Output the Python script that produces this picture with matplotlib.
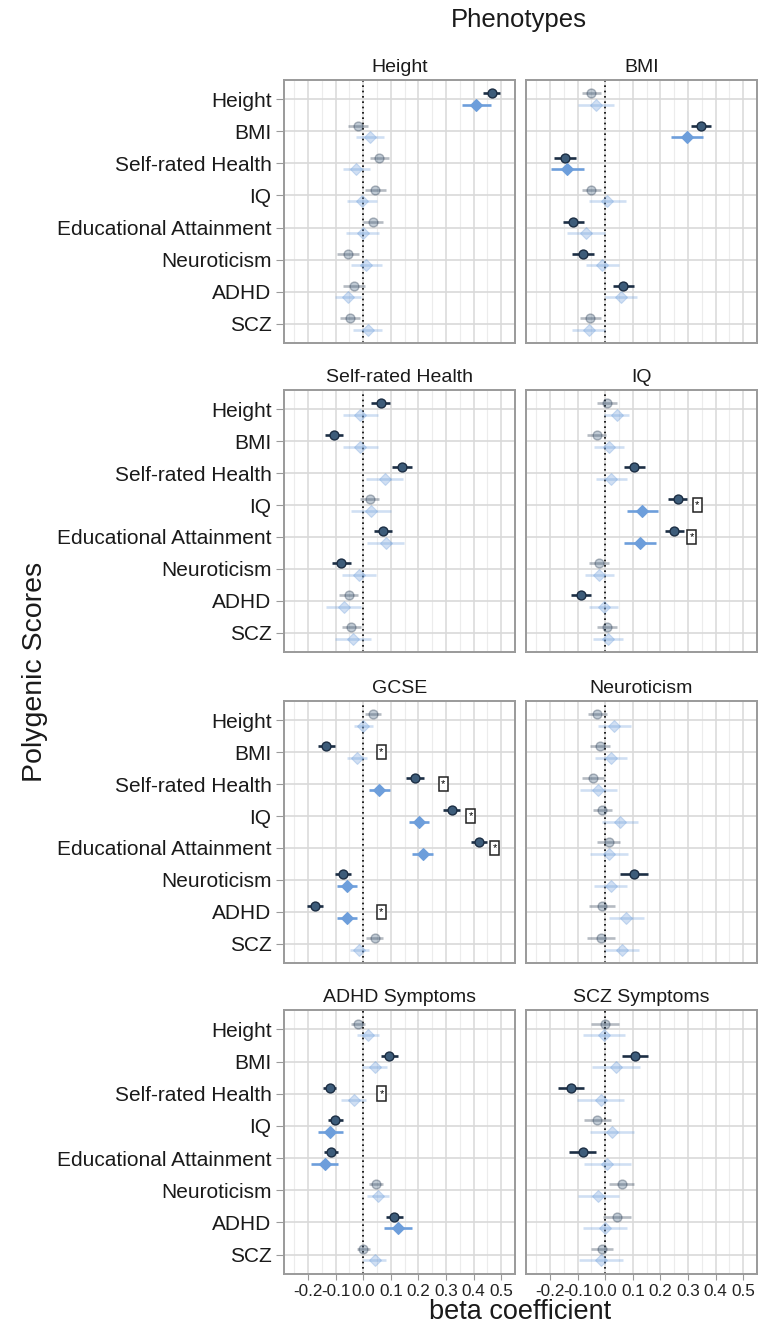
import matplotlib
matplotlib.use("Agg")
import matplotlib.pyplot as plt
import numpy as np

plt.rcParams['font.family'] = ['Liberation Sans', 'DejaVu Sans']

# Outcome phenotypes (one panel each) and polygenic scores (rows)
phenotypes = ["Height", "BMI", "Self-rated Health", "IQ",
              "GCSE", "Neuroticism", "ADHD Symptoms", "SCZ Symptoms"]
scores = ["Height", "BMI", "Self-rated Health", "IQ",
          "Educational Attainment", "Neuroticism", "ADHD", "SCZ"]

# Series 1 (dark circles): beta, 95% CI half-width, significance flag
dark_beta = [
    [0.465, -0.019, 0.059, 0.044, 0.037, -0.055, -0.032, -0.049],
    [-0.050, 0.347, -0.145, -0.050, -0.115, -0.082, 0.065, -0.054],
    [0.064, -0.105, 0.141, 0.023, 0.072, -0.079, -0.053, -0.043],
    [0.006, -0.031, 0.106, 0.262, 0.250, -0.022, -0.088, 0.005],
    [0.035, -0.134, 0.188, 0.320, 0.419, -0.073, -0.174, 0.041],
    [-0.028, -0.019, -0.043, -0.010, 0.012, 0.105, -0.012, -0.016],
    [-0.019, 0.095, -0.122, -0.101, -0.116, 0.046, 0.113, 0.001],
    [-0.001, 0.108, -0.124, -0.028, -0.082, 0.060, 0.042, -0.012],
]
dark_ci = [
    [0.030, 0.037, 0.036, 0.038, 0.036, 0.039, 0.040, 0.036],
    [0.034, 0.037, 0.040, 0.034, 0.039, 0.040, 0.038, 0.038],
    [0.034, 0.033, 0.036, 0.035, 0.034, 0.034, 0.034, 0.034],
    [0.036, 0.035, 0.037, 0.036, 0.034, 0.036, 0.036, 0.036],
    [0.030, 0.030, 0.033, 0.030, 0.030, 0.030, 0.030, 0.030],
    [0.036, 0.037, 0.040, 0.036, 0.040, 0.050, 0.048, 0.050],
    [0.025, 0.030, 0.025, 0.026, 0.026, 0.026, 0.030, 0.025],
    [0.050, 0.047, 0.048, 0.050, 0.050, 0.045, 0.050, 0.040],
]
dark_sig = [
    [1, 0, 0, 0, 0, 0, 0, 0],
    [0, 1, 1, 0, 1, 1, 1, 0],
    [1, 1, 1, 0, 1, 1, 0, 0],
    [0, 0, 1, 1, 1, 0, 1, 0],
    [0, 1, 1, 1, 1, 1, 1, 0],
    [0, 0, 0, 0, 0, 1, 0, 0],
    [0, 1, 1, 1, 1, 0, 1, 0],
    [0, 1, 1, 0, 1, 0, 0, 0],
]

# Series 2 (light diamonds)
light_beta = [
    [0.410, 0.025, -0.025, -0.005, -0.001, 0.011, -0.055, 0.016],
    [-0.034, 0.296, -0.137, 0.008, -0.070, -0.010, 0.057, -0.060],
    [-0.011, -0.011, 0.078, 0.028, 0.081, -0.014, -0.071, -0.037],
    [0.041, 0.014, 0.022, 0.135, 0.126, -0.022, -0.006, 0.010],
    [0.001, -0.021, 0.059, 0.203, 0.215, -0.059, -0.059, -0.014],
    [0.033, 0.020, -0.025, 0.054, 0.014, 0.020, 0.077, 0.060],
    [0.019, 0.041, -0.035, -0.119, -0.140, 0.053, 0.125, 0.041],
    [-0.004, 0.039, -0.016, 0.024, 0.008, -0.025, 0.000, -0.016],
]
light_ci = [
    [0.052, 0.050, 0.050, 0.054, 0.060, 0.057, 0.048, 0.053],
    [0.065, 0.059, 0.061, 0.068, 0.068, 0.060, 0.059, 0.059],
    [0.063, 0.063, 0.067, 0.071, 0.067, 0.062, 0.063, 0.065],
    [0.045, 0.053, 0.056, 0.055, 0.058, 0.053, 0.054, 0.053],
    [0.035, 0.036, 0.038, 0.037, 0.037, 0.035, 0.037, 0.035],
    [0.060, 0.058, 0.068, 0.065, 0.068, 0.060, 0.065, 0.062],
    [0.040, 0.045, 0.045, 0.046, 0.050, 0.040, 0.050, 0.040],
    [0.075, 0.088, 0.085, 0.080, 0.085, 0.075, 0.080, 0.080],
]
light_sig = [
    [1, 0, 0, 0, 0, 0, 0, 0],
    [0, 1, 1, 0, 0, 0, 0, 0],
    [0, 0, 0, 0, 0, 0, 0, 0],
    [0, 0, 0, 1, 1, 0, 0, 0],
    [0, 0, 1, 1, 1, 1, 1, 0],
    [0, 0, 0, 0, 0, 0, 0, 0],
    [0, 0, 0, 1, 1, 0, 1, 0],
    [0, 0, 0, 0, 0, 0, 0, 0],
]

# Significant differences between the two estimates
star_panel = ["IQ", "IQ", "GCSE", "GCSE", "GCSE", "GCSE", "GCSE", "ADHD Symptoms"]
star_score = ["IQ", "Educational Attainment", "BMI", "Self-rated Health", "IQ",
              "Educational Attainment", "ADHD", "Self-rated Health"]
star_x = [0.334, 0.314, 0.065, 0.290, 0.390, 0.477, 0.065, 0.067]

xticks = [-0.2, -0.1, 0.0, 0.1, 0.2, 0.3, 0.4, 0.5]

# ---- styling ----
W, H = 762, 1330
DARK_FILL = "#3d5c7a"
DARK_LINE = "#1c2e44"
LIGHT = "#6d9edb"
FADE = 0.32
GRID_MAJ = "#d9d9d9"
GRID_MIN = "#ececec"
BORDER = "#9a9a9a"
DODGE = 0.18

fig = plt.figure(figsize=(W / 100, H / 100), dpi=100)

col_x = [(284, 515), (526, 757)]
row_y = [(80, 343), (390, 652), (701, 963), (1010, 1274)]


def px_axes(x0, x1, y0, y1):
    return fig.add_axes([x0 / W, 1 - y1 / H, (x1 - x0) / W, (y1 - y0) / H])


ypos = np.arange(1, len(scores) + 1)

for p, name in enumerate(phenotypes):
    r, c = divmod(p, 2)
    ax = px_axes(col_x[c][0], col_x[c][1], row_y[r][0], row_y[r][1])
    ax.set_xlim(-0.287, 0.55)
    ax.set_ylim(len(scores) + 0.6, 0.4)

    # grid
    for xv in np.arange(-0.25, 0.551, 0.1):
        ax.axvline(xv, color=GRID_MIN, lw=0.8, zorder=0)
    for xv in xticks:
        ax.axvline(xv, color=GRID_MAJ, lw=1.1, zorder=0)
    for yv in ypos:
        ax.axhline(yv, color=GRID_MAJ, lw=1.2, zorder=0)
    ax.axvline(0, color="black", lw=1.2, ls=(0, (1, 2.2)), zorder=1)

    for i in range(len(scores)):
        # dark series (above the row line)
        a = 1.0 if dark_sig[p][i] else FADE
        y = ypos[i] - DODGE
        b, h = dark_beta[p][i], dark_ci[p][i]
        ax.plot([b - h, b + h], [y, y], color=DARK_LINE, lw=1.9, alpha=a,
                solid_capstyle="butt", zorder=3)
        ax.plot(b, y, marker="o", ms=6.4, mfc=DARK_FILL, mec=DARK_LINE,
                mew=1.0, alpha=a, zorder=4)
        # light series (below the row line)
        a = 1.0 if light_sig[p][i] else FADE
        y = ypos[i] + DODGE
        b, h = light_beta[p][i], light_ci[p][i]
        ax.plot([b - h, b + h], [y, y], color=LIGHT, lw=1.9, alpha=a,
                solid_capstyle="butt", zorder=3)
        ax.plot(b, y, marker="D", ms=5.8, mfc=LIGHT, mec=LIGHT,
                mew=0.8, alpha=a, zorder=4)

    for sp, ss, sx in zip(star_panel, star_score, star_x):
        if sp == name:
            ax.text(sx, scores.index(ss) + 1, "*", ha="center", va="center",
                    fontsize=8, color="black", zorder=6,
                    bbox=dict(boxstyle="square,pad=0.2", fc="white",
                              ec="#222222", lw=1.1))

    for s in ax.spines.values():
        s.set_color(BORDER)
        s.set_linewidth(1.4)

    ax.set_title(name, fontsize=14, pad=6, color="#1a1a1a")

    ax.set_xticks(xticks)
    if r == len(row_y) - 1:
        ax.set_xticklabels([f"{v:.1f}" for v in xticks], fontsize=12.3,
                           color="#222222")
        ax.tick_params(axis="x", length=4, color=BORDER, pad=3)
    else:
        ax.tick_params(axis="x", length=0, labelbottom=False)

    ax.set_yticks(ypos)
    if c == 0:
        ax.set_yticklabels(scores, fontsize=15, color="#1a1a1a")
        ax.tick_params(axis="y", length=6, color=BORDER, pad=3)
    else:
        ax.tick_params(axis="y", length=0, labelleft=False)

fig.text(519 / W, 1 - 20 / H, "Phenotypes", ha="center", va="center",
         fontsize=18.5, color="#1a1a1a")
fig.text(35 / W, 1 - 672 / H, "Polygenic Scores", ha="center", va="center",
         rotation=90, fontsize=20.5, color="#1a1a1a")
fig.text(520 / W, 1 - 1312 / H, "beta coefficient", ha="center", va="center",
         fontsize=19.5, color="#1a1a1a")

fig.savefig("out.png", dpi=100, facecolor="white")
